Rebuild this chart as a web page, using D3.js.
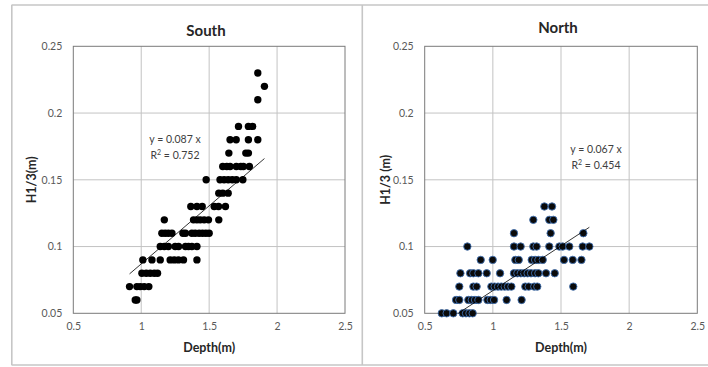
<!DOCTYPE html>
<html>
<head>
<meta charset="utf-8">
<script src="https://cdn.jsdelivr.net/npm/d3@7"></script>
<style>
  html, body { margin: 0; padding: 0; background: #fff; }
  svg { display: block; font-family: Lato, "Open Sans", "Liberation Sans", sans-serif; }
</style>
</head>
<body>
<svg id="chart" width="708" height="367"></svg>
<script>
// Wave height H1/3 against water depth, two sites.
const xTicks = [0.5, 1, 1.5, 2, 2.5];
const yTicks = [0.05, 0.1, 0.15, 0.2, 0.25];
const xTickLabels = ["0.5", "1", "1.5", "2", "2.5"];
const yTickLabels = ["0.05", "0.1", "0.15", "0.2", "0.25"];

// [depth (m), H1/3 (m)]
const southPoints = [
  [1.858, 0.23], [1.907, 0.22], [1.858, 0.21],
  [1.716, 0.19], [1.789, 0.19], [1.82, 0.19],
  [1.654, 0.18], [1.699, 0.18], [1.789, 0.18], [1.858, 0.18],
  [1.645, 0.17], [1.77, 0.17], [1.789, 0.17],
  [1.60, 0.16], [1.63, 0.16], [1.654, 0.16], [1.70, 0.16], [1.733, 0.16], [1.752, 0.16], [1.796, 0.16],
  [1.478, 0.15], [1.58, 0.15], [1.61, 0.15], [1.64, 0.15], [1.67, 0.15], [1.70, 0.15], [1.748, 0.15],
  [1.571, 0.14], [1.60, 0.14], [1.64, 0.14],
  [1.365, 0.13], [1.41, 0.13], [1.449, 0.13], [1.537, 0.13], [1.569, 0.13], [1.62, 0.13],
  [1.17, 0.12], [1.385, 0.12], [1.41, 0.12], [1.434, 0.12], [1.463, 0.12], [1.495, 0.12], [1.571, 0.12],
  [1.152, 0.11], [1.176, 0.11], [1.2, 0.11], [1.226, 0.11], [1.307, 0.11], [1.326, 0.11],
  [1.373, 0.11], [1.397, 0.11], [1.426, 0.11], [1.451, 0.11], [1.476, 0.11], [1.5, 0.11],
  [1.14, 0.10], [1.17, 0.10], [1.2, 0.10], [1.25, 0.10], [1.275, 0.10], [1.326, 0.10], [1.348, 0.10], [1.373, 0.10], [1.41, 0.10],
  [1.012, 0.09], [1.079, 0.09], [1.14, 0.09], [1.213, 0.09], [1.243, 0.09], [1.274, 0.09], [1.311, 0.09], [1.41, 0.09],
  [1.005, 0.08], [1.037, 0.08], [1.066, 0.08], [1.096, 0.08], [1.12, 0.08],
  [0.914, 0.07], [0.968, 0.07], [0.993, 0.07], [1.022, 0.07], [1.056, 0.07],
  [0.956, 0.06], [0.968, 0.06]
];

const northPoints = [
  [1.378, 0.13], [1.434, 0.13],
  [1.297, 0.12], [1.414, 0.12], [1.444, 0.12],
  [1.155, 0.11], [1.424, 0.11], [1.664, 0.11],
  [0.813, 0.10], [1.155, 0.10], [1.204, 0.10], [1.297, 0.10], [1.321, 0.10], [1.414, 0.10],
  [1.488, 0.10], [1.512, 0.10], [1.561, 0.10], [1.659, 0.10], [1.708, 0.10],
  [0.911, 0.09], [0.999, 0.09], [1.165, 0.09], [1.19, 0.09], [1.285, 0.09], [1.31, 0.09],
  [1.334, 0.09], [1.366, 0.09], [1.522, 0.09], [1.586, 0.09], [1.65, 0.09],
  [0.762, 0.08], [0.833, 0.08], [0.857, 0.08], [0.894, 0.08], [0.955, 0.08], [1.053, 0.08],
  [1.155, 0.08], [1.18, 0.08], [1.205, 0.08], [1.23, 0.08], [1.255, 0.08], [1.28, 0.08],
  [1.31, 0.08], [1.334, 0.08], [1.39, 0.08], [1.454, 0.08],
  [0.754, 0.07], [0.857, 0.07], [0.881, 0.07], [0.989, 0.07], [1.013, 0.07], [1.038, 0.07],
  [1.062, 0.07], [1.087, 0.07], [1.111, 0.07], [1.136, 0.07], [1.238, 0.07], [1.263, 0.07],
  [1.304, 0.07], [1.326, 0.07], [1.59, 0.07],
  [0.73, 0.06], [0.754, 0.06], [0.82, 0.06], [0.845, 0.06], [0.869, 0.06], [0.894, 0.06],
  [0.96, 0.06], [0.984, 0.06], [1.009, 0.06], [1.101, 0.06], [1.211, 0.06],
  [0.625, 0.05], [0.661, 0.05], [0.71, 0.05], [0.779, 0.05], [0.803, 0.05], [0.828, 0.05], [0.852, 0.05]
];

const slopes = { South: 0.087, North: 0.067 };
const r2 = { South: "0.752", North: "0.454" };

const panels = [
  { name: "South", pts: southPoints, left: 73.3, right: 345, yLabel: "H1/3(m)", axisLabelX: 32,
    eqX: 175, eqY: 143, depthY: 352, titleY: 36, titleX: 206,
    fill: "#000", stroke: "none", sw: 0 },
  { name: "North", pts: northPoints, left: 424.7, right: 697.3, yLabel: "H1/3 (m)", axisLabelX: 386,
    eqX: 596, eqY: 153, depthY: 352, titleY: 33, titleX: 558,
    fill: "#0a0a0a", stroke: "#3f6fb0", sw: 0.9 }
];

const svg = d3.select("#chart");

// outer frames
const frame = svg.append("g").attr("stroke", "#c6c6c6").attr("stroke-width", 1.6).attr("fill", "none");
frame.append("line").attr("x1", 11.5).attr("x2", 708).attr("y1", 5).attr("y2", 5);
frame.append("line").attr("x1", 11.5).attr("x2", 708).attr("y1", 365).attr("y2", 365);
frame.append("line").attr("x1", 11.8).attr("x2", 11.8).attr("y1", 5).attr("y2", 365);
frame.append("line").attr("x1", 362.3).attr("x2", 362.3).attr("y1", 5).attr("y2", 365);

const plotTop = 46.3, plotBottom = 313.3;

panels.forEach(p => {
  const x = d3.scaleLinear().domain([0.5, 2.5]).range([p.left, p.right]);
  const y = d3.scaleLinear().domain([0.05, 0.25]).range([plotBottom, plotTop]);
  const g = svg.append("g");

  // gridlines
  g.append("g").selectAll("line").data(xTicks.slice(1, -1)).join("line")
    .attr("x1", d => x(d)).attr("x2", d => x(d)).attr("y1", plotTop).attr("y2", plotBottom)
    .attr("stroke", "#c3c3c3").attr("stroke-width", 1);
  g.append("g").selectAll("line").data(yTicks.slice(1, -1)).join("line")
    .attr("x1", p.left).attr("x2", p.right).attr("y1", d => y(d)).attr("y2", d => y(d))
    .attr("stroke", "#c3c3c3").attr("stroke-width", 1);

  // plot border
  g.append("rect").attr("x", p.left).attr("y", plotTop)
    .attr("width", p.right - p.left).attr("height", plotBottom - plotTop)
    .attr("fill", "none").attr("stroke", "#7a7a7a").attr("stroke-width", 1);

  // axes (labels only)
  const xAxis = d3.axisBottom(x).tickValues(xTicks).tickFormat((d, i) => xTickLabels[i]).tickSize(0).tickPadding(9);
  const yAxis = d3.axisLeft(y).tickValues(yTicks).tickFormat((d, i) => yTickLabels[i]).tickSize(0).tickPadding(11);
  const xa = g.append("g").attr("transform", `translate(0,${plotBottom})`).call(xAxis);
  const ya = g.append("g").attr("transform", `translate(${p.left},0)`).call(yAxis);
  [xa, ya].forEach(a => {
    a.select(".domain").remove();
    a.selectAll("text").attr("fill", "#595959").style("font-size", "10.5px")
      .style("font-family", "Lato, 'Open Sans', sans-serif");
  });

  // points
  g.append("g").selectAll("circle").data(p.pts).join("circle")
    .attr("cx", d => x(d[0])).attr("cy", d => y(d[1])).attr("r", 3.7)
    .attr("fill", p.fill).attr("stroke", p.stroke).attr("stroke-width", p.sw);

  // linear trend through origin, over the data range, clipped to the plot
  const k = slopes[p.name];
  const xs = d3.extent(p.pts, d => d[0]);
  const x0 = Math.max(xs[0], 0.05 / k);
  g.append("line")
    .attr("x1", x(x0)).attr("y1", y(k * x0))
    .attr("x2", x(xs[1])).attr("y2", y(k * xs[1]))
    .attr("stroke", "#000").attr("stroke-width", 0.8);

  // equation
  const eq = g.append("g").attr("fill", "#404040").style("font-size", "10.5px").attr("text-anchor", "middle");
  eq.append("text").attr("x", p.eqX).attr("y", p.eqY).text(`y = ${k} x`);
  const rt = eq.append("text").attr("x", p.eqX).attr("y", p.eqY + 15.5);
  rt.append("tspan").text("R");
  rt.append("tspan").attr("dy", -4).style("font-size", "7px").text("2");
  rt.append("tspan").attr("dy", 4).text(` = ${r2[p.name]}`);

  // titles
  g.append("text").attr("x", p.titleX).attr("y", p.titleY).attr("text-anchor", "middle")
    .attr("fill", "#262626").style("font-size", "15px").style("font-weight", "bold").text(p.name);
  g.append("text").attr("x", (p.left + p.right) / 2).attr("y", p.depthY).attr("text-anchor", "middle")
    .attr("fill", "#262626").style("font-size", "12.5px").style("font-weight", "bold").text("Depth(m)");
  g.append("text").attr("transform", `translate(${p.axisLabelX + 4},${(plotTop + plotBottom) / 2}) rotate(-90)`)
    .attr("text-anchor", "middle").attr("fill", "#262626")
    .style("font-size", "12.5px").style("font-weight", "bold").text(p.yLabel);
});
</script>
</body>
</html>
